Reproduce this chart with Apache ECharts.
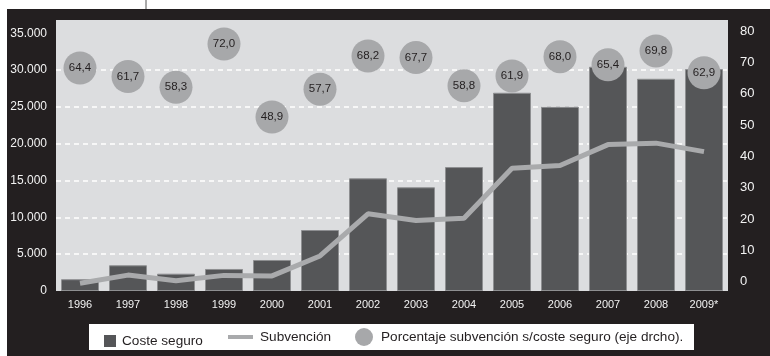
<!DOCTYPE html>
<html>
<head>
<meta charset="utf-8">
<script src="https://cdn.jsdelivr.net/npm/echarts@6/dist/echarts.min.js"></script>
<style>
  html, body { margin: 0; padding: 0; background: #ffffff; }
  #chart { width: 770px; height: 356px; }
</style>
</head>
<body>
<div id="chart"></div>
<script>
// Años
const years = ['1996', '1997', '1998', '1999', '2000', '2001', '2002', '2003', '2004', '2005', '2006', '2007', '2008', '2009*'];
// Coste del seguro (eje izquierdo)
const costeSeguro = [1600, 3490, 2350, 2990, 4210, 8280, 15300, 14080, 16830, 26920, 25020, 30450, 28820, 30130];
// Subvención (eje izquierdo)
const subvencion = [1050, 2160, 1400, 2120, 2050, 4760, 10480, 9580, 9880, 16680, 17050, 19880, 20080, 18930];
// Porcentaje subvención s/coste seguro (eje derecho)
const porcentaje = [64.4, 61.7, 58.3, 72.0, 48.9, 57.7, 68.2, 67.7, 58.8, 61.9, 68.0, 65.4, 69.8, 62.9];
// Etiquetas del eje derecho
const rightTicks = [0, 10, 20, 30, 40, 50, 60, 70, 80];

const axisFont = "'Liberation Sans', Arial, sans-serif";
const regular = "'Liberation Sans', Arial, sans-serif";
const DARK = '#231f20';

function miles(v) {
  return String(v).replace(/\B(?=(\d{3})+(?!\d))/g, '.');
}

const chart = echarts.init(document.getElementById('chart'), null, { renderer: 'canvas' });

const legendText = { color: DARK, fontSize: 13.6, fontFamily: regular };

chart.setOption({
  animation: false,
  backgroundColor: '#ffffff',
  graphic: [
    { type: 'rect', z: -10, shape: { x: 7, y: 9, width: 763, height: 347 }, style: { fill: DARK } },
    { type: 'line', z: -10, shape: { x1: 146, y1: 0, x2: 146, y2: 9 }, style: { stroke: '#555555', lineWidth: 1 } },
    { type: 'rect', z: -5, shape: { x: 89, y: 324, width: 605, height: 26 }, style: { fill: '#ffffff' } }
  ],
  grid: {
    left: 56, right: 42, top: 20, bottom: 65,
    show: true, backgroundColor: '#dcdddf', borderWidth: 0,
    outerBoundsMode: 'none'
  },
  legend: [
    {
      data: ['Coste seguro'], left: 104, top: 334, icon: 'rect',
      itemWidth: 12, itemHeight: 12, padding: 0,
      itemStyle: { color: '#555658', borderWidth: 0 },
      textStyle: Object.assign({ padding: [0, 0, 0, 1] }, legendText)
    },
    {
      data: ['Subvención'], left: 228, top: 330, icon: 'rect',
      itemWidth: 25, itemHeight: 4, padding: 0,
      itemStyle: { color: '#a9aaac', borderWidth: 0 },
      textStyle: Object.assign({ padding: [0, 0, 0, 2] }, legendText)
    },
    {
      data: ['Porcentaje subvención s/coste seguro (eje drcho).'], left: 355, top: 328, icon: 'circle',
      itemWidth: 18, itemHeight: 18, padding: 0,
      itemStyle: { borderWidth: 0 },
      textStyle: Object.assign({ padding: [0, 0, 0, 3] }, legendText)
    }
  ],
  xAxis: {
    type: 'category',
    data: years,
    axisLine: { show: false },
    axisTick: { show: false },
    axisLabel: { color: '#f2f2f2', fontSize: 11, fontFamily: axisFont, margin: 8 }
  },
  yAxis: [
    {
      type: 'value', position: 'left',
      min: 0, max: 36800, interval: 5000,
      axisLine: { show: false }, axisTick: { show: false },
      axisLabel: {
        color: '#f2f2f2', fontSize: 12, fontFamily: axisFont, margin: 9,
        showMaxLabel: false, formatter: miles
      },
      splitLine: {
        show: true, showMinLine: false, showMaxLine: false,
        lineStyle: {
          color: ['#ffffff', '#ffffff', '#ffffff', '#ffffff', '#ffffff', '#ffffff', 'rgba(0,0,0,0)'],
          type: [5, 4], width: 1.6
        }
      }
    },
    {
      type: 'value', position: 'right', show: false,
      min: -6.2, max: 79.6,
      splitLine: { show: false }
    },
    {
      type: 'value', position: 'right',
      min: -2.9, max: 83.5,
      axisLine: { show: false }, axisTick: { show: false },
      splitLine: { show: false },
      axisLabel: {
        color: '#f2f2f2', fontSize: 13, fontFamily: axisFont, margin: 12,
        customValues: rightTicks, showMinLabel: true, showMaxLabel: true
      }
    }
  ],
  series: [
    {
      name: 'Coste seguro', type: 'bar', yAxisIndex: 0, z: 2,
      data: costeSeguro, barWidth: 38,
      itemStyle: { color: '#555658', borderColor: '#8e8f91', borderWidth: 1 }
    },
    {
      name: 'Subvención', type: 'line', yAxisIndex: 0, z: 3,
      data: subvencion, showSymbol: false, symbol: 'none',
      lineStyle: { color: '#a9aaac', width: 5 },
      itemStyle: { color: '#a9aaac' }
    },
    {
      name: 'Porcentaje subvención s/coste seguro (eje drcho).', type: 'scatter', yAxisIndex: 1, z: 4,
      data: porcentaje, symbolSize: 33,
      itemStyle: { color: '#a7a8aa', opacity: 1 },
      label: {
        show: true, position: 'inside', color: DARK, fontSize: 11.5, fontFamily: axisFont,
        formatter: p => p.value.toFixed(1).replace('.', ',')
      }
    }
  ]
});
</script>
</body>
</html>
